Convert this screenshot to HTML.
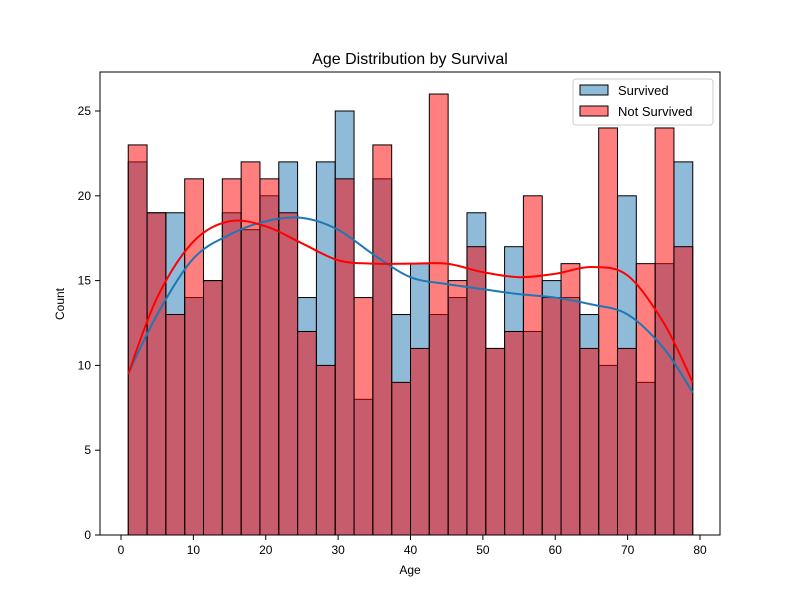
<!DOCTYPE html>
<html><head><meta charset="utf-8"><style>body{margin:0;background:#fff}svg{display:block;font-family:"Liberation Sans",sans-serif}</style></head>
<body>
<svg id="c" width="800" height="600"></svg>
<script>
const binStart=1, binWidth=2.6;
const survived=[22,19,19,14,15,19,18,20,22,14,22,25,8,21,13,16,13,14,19,11,17,12,15,14,13,10,20,9,16,22];
const notSurvived=[23,19,13,21,15,21,22,21,19,12,10,21,14,23,9,11,26,15,17,11,12,20,14,16,11,24,11,16,24,17];
const kdeAges=[1,5,10,15,20,25,30,35,40,45,50,55,60,65,70,75,79];
const kdeSurvived=[9.5,13,16.3,17.7,18.5,18.7,18,16.5,15.2,14.8,14.5,14.2,14,13.6,13,11,8.4];
const kdeNotSurvived=[9.5,14,17.3,18.5,18.2,17.2,16.2,16,16,16,15.5,15.2,15.4,15.8,15.3,12.5,9];
const xTicks=[0,10,20,30,40,50,60,70,80];
const yTicks=[0,5,10,15,20,25];
const X=v=>121+v*7.2375, Y=v=>535-v*16.96;
const svg=document.getElementById('c'),NS='http://www.w3.org/2000/svg';
function mk(t,a,p){const e=document.createElementNS(NS,t);for(const k in a)e.setAttribute(k,a[k]);(p||svg).appendChild(e);return e;}
function bars(vals,fill,name){vals.forEach((v,i)=>{const x0=X(binStart+i*binWidth),x1=X(binStart+(i+1)*binWidth);
const r=mk('rect',{x:x0,y:Y(v),width:x1-x0,height:Y(0)-Y(v),fill:fill,stroke:'#000','stroke-width':1});

});}
bars(survived,'rgba(31,119,180,0.5)','survived');
bars(notSurvived,'rgba(255,0,0,0.5)','not-survived');
function smooth(xs,ys){const p=xs.map((x,i)=>[X(x),Y(ys[i])]);let d='M'+p[0][0]+','+p[0][1];
for(let i=0;i<p.length-1;i++){const p0=p[i-1]||p[i],p1=p[i],p2=p[i+1],p3=p[i+2]||p2;
d+=' C'+(p1[0]+(p2[0]-p0[0])/6)+','+(p1[1]+(p2[1]-p0[1])/6)+' '+(p2[0]-(p3[0]-p1[0])/6)+','+(p2[1]-(p3[1]-p1[1])/6)+' '+p2[0]+','+p2[1];}return d;}
const k1=mk('path',{d:smooth(kdeAges,kdeSurvived),fill:'none',stroke:'#1f77b4','stroke-width':2});


const k2=mk('path',{d:smooth(kdeAges,kdeNotSurvived),fill:'none',stroke:'#ff0000','stroke-width':2});


const fr=mk('rect',{x:100,y:72,width:620,height:463,fill:'none',stroke:'#000','stroke-width':1});


xTicks.forEach(t=>{mk('line',{x1:X(t),x2:X(t),y1:535,y2:540,stroke:'#000'});
const tx=mk('text',{x:X(t),y:554,'text-anchor':'middle','font-size':12});tx.textContent=t;

});
yTicks.forEach(t=>{mk('line',{x1:95,x2:100,y1:Y(t),y2:Y(t),stroke:'#000'});
const tx=mk('text',{x:91,y:Y(t)+4,'text-anchor':'end','font-size':12});tx.textContent=t;

});
</script>
<svg style="position:absolute;left:0;top:0" width="800" height="600">
<text x="410" y="64" text-anchor="middle" font-size="16" font-family="Liberation Sans,sans-serif">Age Distribution by Survival</text>
<text x="410" y="574" text-anchor="middle" font-size="12" font-family="Liberation Sans,sans-serif">Age</text>
<text x="64" y="304" text-anchor="middle" font-size="12" font-family="Liberation Sans,sans-serif" transform="rotate(-90 64 304)">Count</text>
<g font-family="Liberation Sans,sans-serif" font-size="13">
<rect x="573" y="79" width="140" height="46" rx="3" fill="#fff" fill-opacity="0.8" stroke="#ccc"/>
<rect x="580" y="85" width="28" height="10" fill="rgba(31,119,180,0.5)" stroke="#000"/>
<text x="618" y="95">Survived</text>
<rect x="580" y="106" width="28" height="10" fill="rgba(255,0,0,0.5)" stroke="#000"/>
<text x="618" y="116">Not Survived</text>
</g>
</svg>
</body></html>
